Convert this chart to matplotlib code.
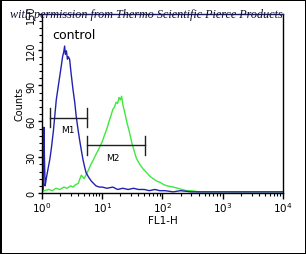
import matplotlib
matplotlib.use('Agg')
import matplotlib.pyplot as plt
import numpy as np
from matplotlib.ticker import LogLocator, MultipleLocator, NullFormatter

# control (blue) histogram, FL1-H vs counts
ctrl_x = [1.0, 1.05, 1.08, 1.1, 1.13, 1.18, 1.26, 1.35, 1.43, 1.55, 1.73, 1.9,
          2.09, 2.2, 2.3, 2.38, 2.45, 2.55, 2.65, 2.75, 2.88, 3.05, 3.27, 3.5,
          3.71, 3.95, 4.2, 4.5, 4.8, 5.1, 5.4, 6.0, 6.6, 7.2, 7.9, 9.0, 10, 12,
          15, 18, 22, 27, 33, 40, 50, 60, 75, 90, 110, 150, 200, 300, 500, 1000,
          3000, 10000]
ctrl_y = [2, 3, 55, 30, 6, 12, 20, 28, 37, 52, 78, 92,
          106, 114, 118, 123, 116, 119, 112, 114, 112, 100, 87, 76,
          64, 54, 45, 36, 28, 22, 17, 13, 10, 8, 6, 5, 5, 4,
          5, 3, 4, 3, 4, 3, 3, 2, 3, 2, 2, 1, 2, 1, 1, 1,
          1, 1]

# sample (green) histogram
samp_x = [1.0, 1.1, 1.3, 1.5, 1.7, 2.0, 2.3, 2.6, 3.0, 3.3, 3.6, 4.0, 4.5, 5.0,
          5.5, 6.0, 6.5, 7.0, 8.0, 9.0, 10, 11, 12, 13, 14, 15, 16, 17, 18, 19,
          20, 21, 22, 24, 26, 28, 31, 34, 37, 42, 48, 55, 62, 70, 80, 91, 105,
          120, 150, 180, 250, 300, 400, 600, 1000, 2000, 5000, 10000]
samp_y = [1, 2, 3, 2, 4, 3, 5, 4, 6, 5, 7, 8, 15, 12,
          16, 20, 24, 27, 33, 38, 43, 49, 54, 60, 65, 70, 72, 76, 75, 80,
          78, 81, 74, 66, 58, 52, 42, 35, 29, 24, 20, 17, 14, 12, 10, 9, 7,
          6, 5, 4, 2, 2, 1, 1, 1, 1, 1, 1]

# marker gates
gates = {'M1': (1.36, 5.6, 63), 'M2': (5.6, 51, 40)}
gate_labels = {'M1': (2.7, 53), 'M2': (15, 30)}

fig = plt.figure(figsize=(3.06, 2.55), dpi=100)
fig.patch.set_edgecolor('black')
fig.patch.set_linewidth(2)
ax = fig.add_axes([0.137, 0.239, 0.788, 0.703])

ax.plot(samp_x, samp_y, color='#3ee83e', lw=1.0)
ax.plot(ctrl_x, ctrl_y, color='#2222b0', lw=1.0)

for k, (x0, x1, y) in gates.items():
    ax.plot([x0, x1], [y, y], color='#202020', lw=1.0)
    ax.plot([x0, x0], [y - 8, y + 8], color='#202020', lw=1.0)
    ax.plot([x1, x1], [y - 8, y + 8], color='#202020', lw=1.0)
    lx, ly = gate_labels[k]
    ax.text(lx, ly, k, fontsize=6.5, ha='center', va='center')

ax.set_xscale('log')
ax.set_xlim(1, 10000)
ax.set_ylim(0, 150)
ax.set_yticks([0, 30, 60, 90, 120, 150])
ax.yaxis.set_minor_locator(MultipleLocator(6))
ax.xaxis.set_minor_locator(LogLocator(base=10, subs=np.arange(2, 10)))
ax.xaxis.set_minor_formatter(NullFormatter())
ax.tick_params(axis='y', labelsize=7, rotation=90, length=3, width=1, pad=1)
ax.tick_params(axis='x', labelsize=7.5, length=4, width=1, pad=1)
ax.tick_params(which='minor', length=2, width=0.8)
for lab in ax.get_yticklabels():
    lab.set_va('center')
ax.set_ylabel('Counts', fontsize=7, labelpad=1)
ax.set_xlabel('FL1-H', fontsize=7.5, labelpad=1)
for s in ax.spines.values():
    s.set_linewidth(1.0)
ax.spines['top'].set_color('#1a1a60')

ax.text(1.5, 133, 'control', fontsize=9, ha='left', va='center')

fig.text(0.479, 0.941, 'with permission from Thermo Scientific Pierce Products',
         fontsize=8.75, family='Liberation Serif', style='italic',
         ha='center', va='center', color='#101030')

fig.savefig('out.png', dpi=100, edgecolor=fig.get_edgecolor())
